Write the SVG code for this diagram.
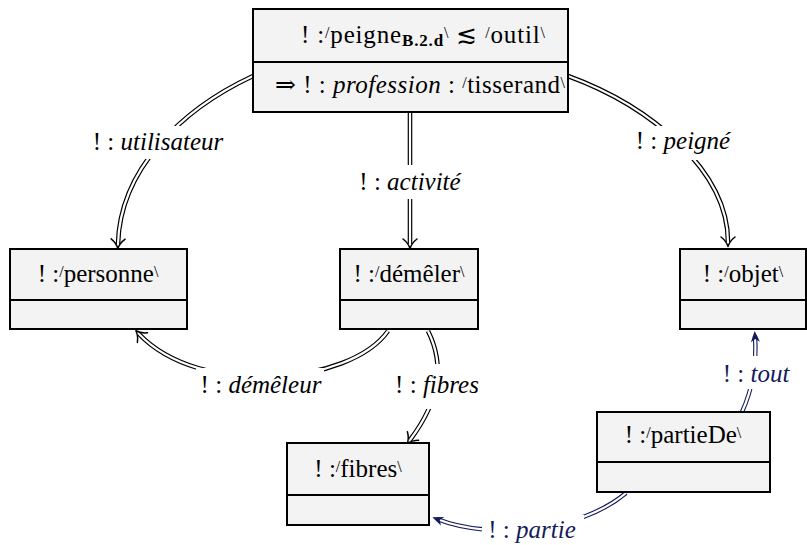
<svg xmlns="http://www.w3.org/2000/svg" width="807" height="545" viewBox="0 0 807 545" font-family="Liberation Serif, Times New Roman, Times, DejaVu Serif, serif">
<style>
.box{fill:#f3f3f3;stroke:#000;stroke-width:2}
.t{font-size:25px;fill:#000}
.bt{fill:#141a5c}
.it{font-style:italic}
.sl{font-size:16px}
.sub{font-size:17px;font-weight:bold}
.ob{stroke:#000;stroke-width:4.6;fill:none}
.bb{stroke:#141a5c;stroke-width:4.4;fill:none}
.ow{stroke:#fff;stroke-width:2.2;fill:none}
.mk{stroke:none;fill:none;marker-end:url(#imp)}
.mb{stroke:none;fill:none;marker-end:url(#stl)}
.lbg{fill:#fff}
</style>
<defs>
<marker id="imp" markerUnits="userSpaceOnUse" markerWidth="24" markerHeight="24" viewBox="-12 -12 24 24" refX="0" refY="0" orient="auto" overflow="visible">
<path d="M -5,-7 Q -1,-1.8 4.5,0 Q -1,1.8 -5,7" fill="none" stroke="#000" stroke-width="1.5" stroke-linecap="round" stroke-linejoin="round"/>
</marker>
<marker id="stl" markerUnits="userSpaceOnUse" markerWidth="24" markerHeight="24" viewBox="-12 -12 24 24" refX="0" refY="0" orient="auto" overflow="visible">
<path d="M 5,0 L -6,-4.5 L -3,0 L -6,4.5 Z" fill="#141a5c"/>
</marker>
</defs>
<g id="connectors">
<path class="ob" d="M 253,76 C 180,110 120,170 118,244"/>
<path class="ow" d="M 253,76 C 180,110 120,170 118,244"/>
<path class="mk" d="M 253,76 C 180,110 120,170 118,244"/>
<path class="ob" d="M 410,113 L 410,244"/>
<path class="ow" d="M 410,113 L 410,244"/>
<path class="mk" d="M 410,113 L 410,244"/>
<path class="ob" d="M 568,76 C 650,106 728,170 728,242"/>
<path class="ow" d="M 568,76 C 650,106 728,170 728,242"/>
<path class="mk" d="M 568,76 C 650,106 728,170 728,242"/>
<path class="ob" d="M 388,331 C 350,385 200,398 139,334"/>
<path class="ow" d="M 388,331 C 350,385 200,398 139,334"/>
<path class="mk" d="M 388,331 C 350,385 200,398 139,334"/>
<path class="ob" d="M 428,331 C 445,365 440,400 410,440"/>
<path class="ow" d="M 428,331 C 445,365 440,400 410,440"/>
<path class="mk" d="M 428,331 C 445,365 440,400 410,440"/>
<path class="bb" d="M 626,493 C 580,532 490,540 437,519"/>
<path class="ow" d="M 626,493 C 580,532 490,540 437,519"/>
<path class="mb" d="M 626,493 C 580,532 490,540 437,519"/>
<path class="bb" d="M 742,412 C 752,390 757,365 755,336"/>
<path class="ow" d="M 742,412 C 752,390 757,365 755,336"/>
<path class="mb" d="M 742,412 C 752,390 757,365 755,336"/>
</g>
<g id="labels">
<rect class="lbg" x="88" y="126" width="140" height="33"/>
<text class="t" x="158" y="150" text-anchor="middle">! : <tspan class="it">utilisateur</tspan></text>
<rect class="lbg" x="360" y="165" width="100" height="34"/>
<text class="t" x="410" y="190" text-anchor="middle">! : <tspan class="it">activité</tspan></text>
<rect class="lbg" x="634" y="126" width="98" height="34"/>
<text class="t" x="683" y="149" text-anchor="middle">! : <tspan class="it">peigné</tspan></text>
<rect class="lbg" x="196" y="368" width="128" height="33"/>
<text class="t" x="261" y="393" text-anchor="middle">! : <tspan class="it">démêleur</tspan></text>
<rect class="lbg" x="390" y="364" width="94" height="45"/>
<text class="t" x="437" y="393" text-anchor="middle">! : <tspan class="it">fibres</tspan></text>
<rect class="lbg" x="482" y="515" width="102" height="30"/>
<text class="t bt" x="532" y="538" text-anchor="middle">! : <tspan class="it">partie</tspan></text>
<rect class="lbg" x="722" y="356" width="68" height="33"/>
<text class="t bt" x="756" y="382" text-anchor="middle">! : <tspan class="it">tout</tspan></text>
</g>
<g id="node-peigne">
<rect class="box" x="253" y="9" width="315" height="103"/>
<line x1="253" y1="62" x2="568" y2="62" stroke="#000" stroke-width="2"/>
<text class="t" x="301" y="43" textLength="244" lengthAdjust="spacing">! :<tspan class="sl" dy="-5">/</tspan><tspan dy="5">peigne</tspan><tspan class="sub" dy="3">B.2.d</tspan><tspan class="sl" dy="-8">\</tspan><tspan dy="5"> ≲ </tspan><tspan class="sl" dy="-5">/</tspan><tspan dy="5">outil</tspan><tspan class="sl" dy="-5">\</tspan></text>
<text class="t" x="275" y="93" textLength="290" lengthAdjust="spacing">⇒ ! : <tspan class="it">profession</tspan> : <tspan class="sl" dy="-5">/</tspan><tspan dy="5">tisserand</tspan><tspan class="sl" dy="-5">\</tspan></text>
</g>
<g id="node-personne">
<rect class="box" x="10" y="249" width="177" height="80"/>
<line x1="10" y1="300" x2="187" y2="300" stroke="#000" stroke-width="2"/>
<text class="t" x="98" y="282" text-anchor="middle">! :<tspan class="sl" dy="-5">/</tspan><tspan dy="5">personne</tspan><tspan class="sl" dy="-5">\</tspan></text>
</g>
<g id="node-demeler">
<rect class="box" x="340" y="249" width="138" height="80"/>
<line x1="340" y1="300" x2="478" y2="300" stroke="#000" stroke-width="2"/>
<text class="t" x="409" y="282" text-anchor="middle">! :<tspan class="sl" dy="-5">/</tspan><tspan dy="5">démêler</tspan><tspan class="sl" dy="-5">\</tspan></text>
</g>
<g id="node-objet">
<rect class="box" x="680" y="249" width="126" height="80"/>
<line x1="680" y1="300" x2="806" y2="300" stroke="#000" stroke-width="2"/>
<text class="t" x="743" y="282" text-anchor="middle">! :<tspan class="sl" dy="-5">/</tspan><tspan dy="5">objet</tspan><tspan class="sl" dy="-5">\</tspan></text>
</g>
<g id="node-fibres">
<rect class="box" x="287" y="443" width="142" height="82"/>
<line x1="287" y1="495" x2="429" y2="495" stroke="#000" stroke-width="2"/>
<text class="t" x="358" y="477" text-anchor="middle">! :<tspan class="sl" dy="-5">/</tspan><tspan dy="5">fibres</tspan><tspan class="sl" dy="-5">\</tspan></text>
</g>
<g id="node-partieDe">
<rect class="box" x="597" y="412" width="173" height="80"/>
<line x1="597" y1="462" x2="770" y2="462" stroke="#000" stroke-width="2"/>
<text class="t" x="683" y="443" text-anchor="middle">! :<tspan class="sl" dy="-5">/</tspan><tspan dy="5">partieDe</tspan><tspan class="sl" dy="-5">\</tspan></text>
</g>
</svg>
